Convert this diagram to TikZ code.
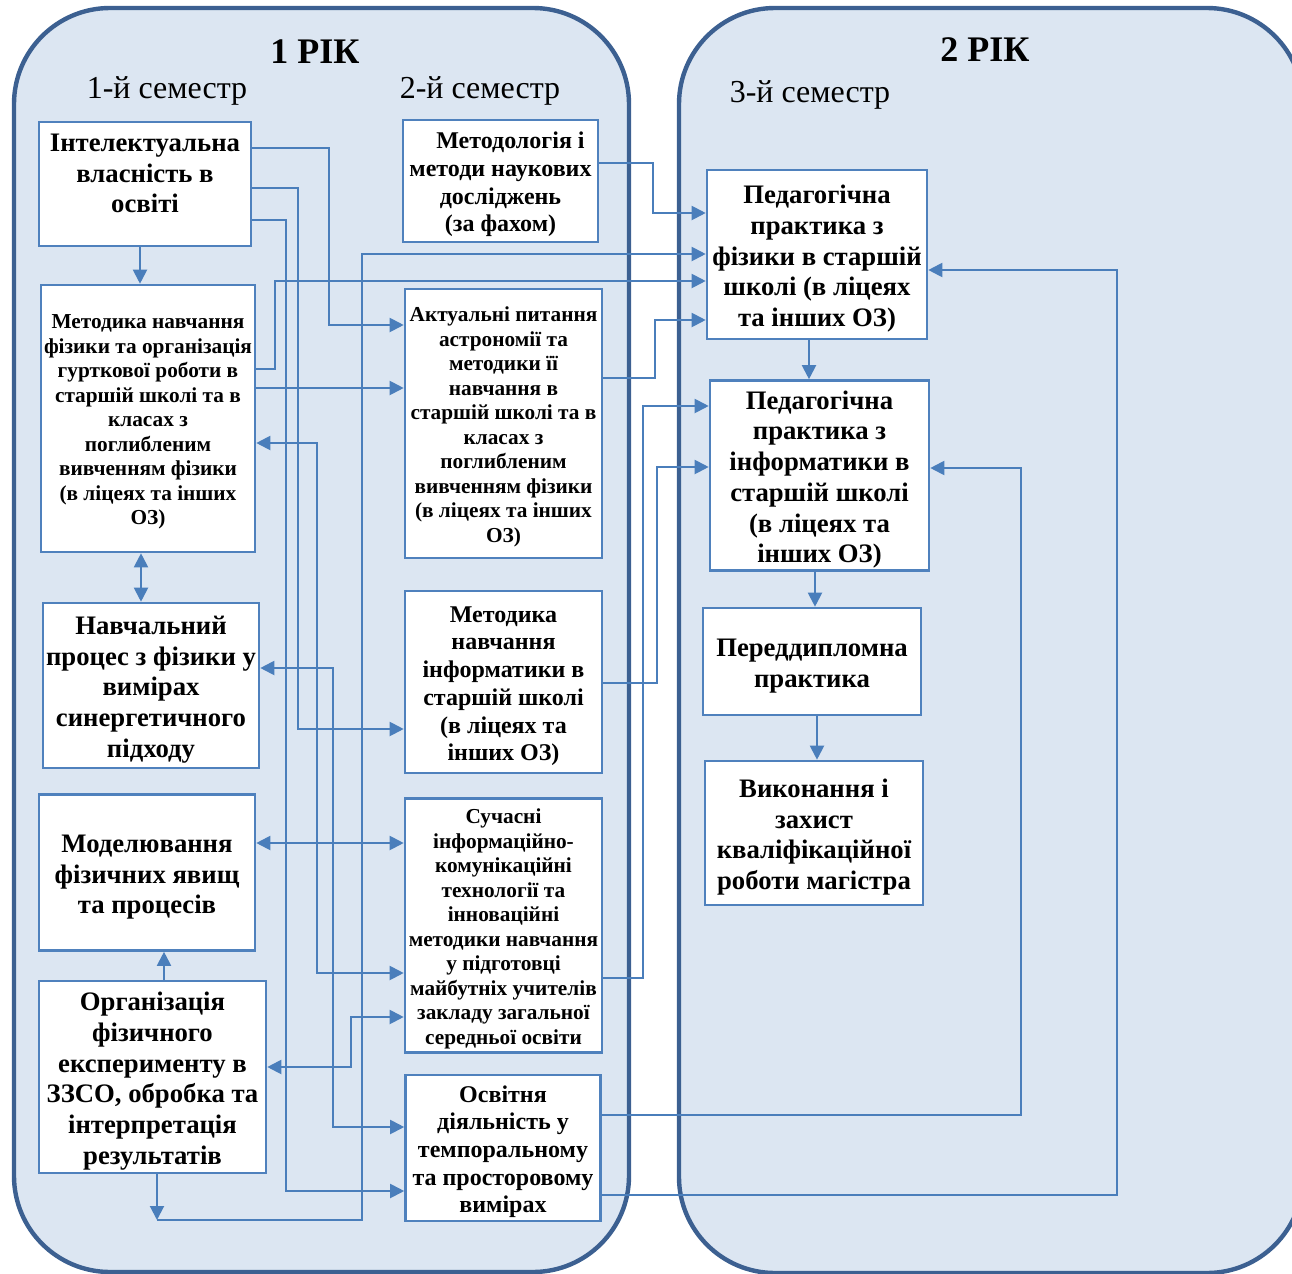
\documentclass[tikz,border=0pt]{standalone}
\usepackage{fontspec}
\setmainfont{Liberation Serif}
\usetikzlibrary{arrows.meta}

\definecolor{yearline}{RGB}{60,96,145}
\definecolor{yearfill}{RGB}{220,230,242}
\definecolor{boxline}{RGB}{79,129,189}
\definecolor{linkblue}{RGB}{74,126,187}

\newcommand{\topgap}{\rule{0pt}{1em}}

\tikzset{
  yearbox/.style={draw=yearline, fill=yearfill, line width=2.2pt, rounded corners=48pt},
  yeartitle/.style={font=\bfseries\fontsize{18}{21}\selectfont},
  semtext/.style={font=\fontsize{16}{19}\selectfont},
  box/.style={draw=boxline, fill=white, line width=1.3pt, align=center, inner sep=0pt},
  bigtext/.style={font=\bfseries\fontsize{13.35}{15.35}\selectfont},
  midtext/.style={font=\bfseries\fontsize{12}{13.85}\selectfont},
  smalltext/.style={font=\bfseries\fontsize{10.65}{12.25}\selectfont},
  link/.style={draw=linkblue, line width=1pt},
  arr/.style={link, -{Triangle[length=7pt,width=7pt]}},
  darr/.style={link, {Triangle[length=7pt,width=7pt]}-{Triangle[length=7pt,width=7pt]}}
}

\begin{document}
\begin{tikzpicture}[x=0.5pt, y=-0.5pt]
\useasboundingbox (0,0) rectangle (1292,1274);
% two years
\draw[yearbox] (14,8) rectangle (629,1272);
\draw[yearbox] (679,8) rectangle (1303,1273);
\node[yeartitle] (y1) at (315,52) {1 РІК};
\node[yeartitle] (y2) at (985,50) {2 РІК};
\node[semtext] (s1) at (167,91) {1-й семестр};
\node[semtext] (s2) at (480,91) {2-й семестр};
\node[semtext] (s3) at (810,95) {3-й семестр};

% 1st semester
\begin{scope}[every node/.style={box, bigtext}]
  \node[minimum width=106pt, minimum height=62pt] (intel) at (145,184) {\topgap Інтелектуальна\\власність в\\освіті\\~};
  \node[smalltext, minimum width=107pt, minimum height=133.5pt] (metf) at (148,418.5) {\topgap Методика навчання\\фізики та організація\\гурткової роботи в\\старшій школі та в\\класах з\\поглибленим\\вивченням фізики\\(в ліцеях та інших\\ОЗ)};
  \node[minimum width=108pt, minimum height=82.5pt] (navch) at (151,685.5) {\topgap Навчальний\\процес з фізики у\\вимірах\\синергетичного\\підходу};
  \node[minimum width=108pt, minimum height=78pt] (model) at (147,872.5) {\topgap Моделювання\\фізичних явищ\\та процесів};
  \node[minimum width=113.5pt, minimum height=96pt] (org) at (152.5,1077) {\topgap Організація\\фізичного\\експерименту в\\ЗЗСО, обробка та\\інтерпретація\\результатів};
\end{scope}

% 2nd semester
\begin{scope}[every node/.style={box, midtext}]
  \node[minimum width=97.5pt, minimum height=61pt] (metod) at (500.5,181) {\topgap\hspace*{10pt}Методологія і\\методи наукових\\досліджень\\(за фахом)};
  \node[smalltext, minimum width=98.5pt, minimum height=134.5pt] (astro) at (503.5,423.5) {\topgap Актуальні питання\\астрономії та\\методики її\\навчання в\\старшій школі та в\\класах з\\поглибленим\\вивченням фізики\\(в ліцеях та інших\\ОЗ)};
  \node[minimum width=98.5pt, minimum height=91pt] (infm) at (503.5,682) {\topgap Методика\\навчання\\інформатики в\\старшій школі\\(в ліцеях та\\інших ОЗ)};
  \node[smalltext, minimum width=98.5pt, minimum height=127pt] (ikt) at (503.5,925.5) {\topgap Сучасні\\інформаційно-\\комунікаційні\\технології та\\інноваційні\\методики навчання\\у підготовці\\майбутніх учителів\\закладу загальної\\середньої освіти};
  \node[minimum width=97.5pt, minimum height=73pt] (osv) at (503,1148) {\topgap Освітня\\діяльність у\\темпоральному\\та просторовому\\вимірах};
\end{scope}

% 3rd semester
\begin{scope}[every node/.style={box, bigtext}]
  \node[minimum width=110pt, minimum height=84.5pt] (pedf) at (817,254.5) {\topgap Педагогічна\\практика з\\фізики в старшій\\школі (в ліцеях\\та інших ОЗ)};
  \node[minimum width=109.5pt, minimum height=95pt] (pedi) at (819.5,475.5) {\topgap Педагогічна\\практика з\\інформатики в\\старшій школі\\(в ліцеях та\\інших ОЗ)};
  \node[minimum width=109pt, minimum height=53.5pt] (pered) at (812,661.5) {\topgap Переддипломна\\практика};
  \node[minimum width=109pt, minimum height=72pt] (vykon) at (814,833) {\topgap Виконання і\\захист\\кваліфікаційної\\роботи магістра};
\end{scope}

% links
\draw[arr] (intel.east |- 0,148) -| (329,325) -- (astro.west |- 0,325);
\draw[arr] (intel.east |- 0,188) -| (298,729) -- (infm.west |- 0,729);
\draw[arr] (intel.east |- 0,220) -| (286,1191) -- (osv.west |- 0,1191);
\draw[arr] (intel.south -| 140,0) -- (metf.north -| 140,0);
\draw[arr] (metf.east |- 0,369) -| (275,281) -- (pedf.west |- 0,281);
\draw[arr] (metf.east |- 0,388) -- (astro.west |- 0,388);
\draw[darr] (metf.east |- 0,443) -| (317,973) -- (ikt.west |- 0,973);
\draw[darr] (metf.south -| 141,0) -- (navch.north -| 141,0);
\draw[darr] (navch.east |- 0,668) -| (333,1127) -- (osv.west |- 0,1127);
\draw[darr] (model.east |- 0,843) -- (ikt.west |- 0,843);
\coordinate (turn) at (157,1220);
\draw[arr] (org.south -| 157,0) -- (turn);
\draw[arr] (turn) -| (362,254) -- (pedf.west |- 0,254);
\draw[arr] (org.north -| 164,0) -- (model.south -| 164,0);
\draw[darr] (org.east |- 0,1067) -| (351,1017) -- (ikt.west |- 0,1017);
\draw[arr] (metod.east |- 0,163) -| (653,213) -- (pedf.west |- 0,213);
\draw[arr] (astro.east |- 0,378) -| (655,320) -- (pedf.west |- 0,320);
\draw[arr] (infm.east |- 0,683) -| (657,467) -- (pedi.west |- 0,467);
\draw[arr] (ikt.east |- 0,978) -| (643,406) -- (pedi.west |- 0,406);
\draw[arr] (osv.east |- 0,1115) -| (1021,468) -- (pedi.east |- 0,468);
\draw[arr] (osv.east |- 0,1195) -| (1117,270) -- (pedf.east |- 0,270);
\draw[arr] (pedf.south -| 809,0) -- (pedi.north -| 809,0);
\draw[arr] (pedi.south -| 815,0) -- (pered.north -| 815,0);
\draw[arr] (pered.south -| 817,0) -- (vykon.north -| 817,0);
\end{tikzpicture}
\end{document}
